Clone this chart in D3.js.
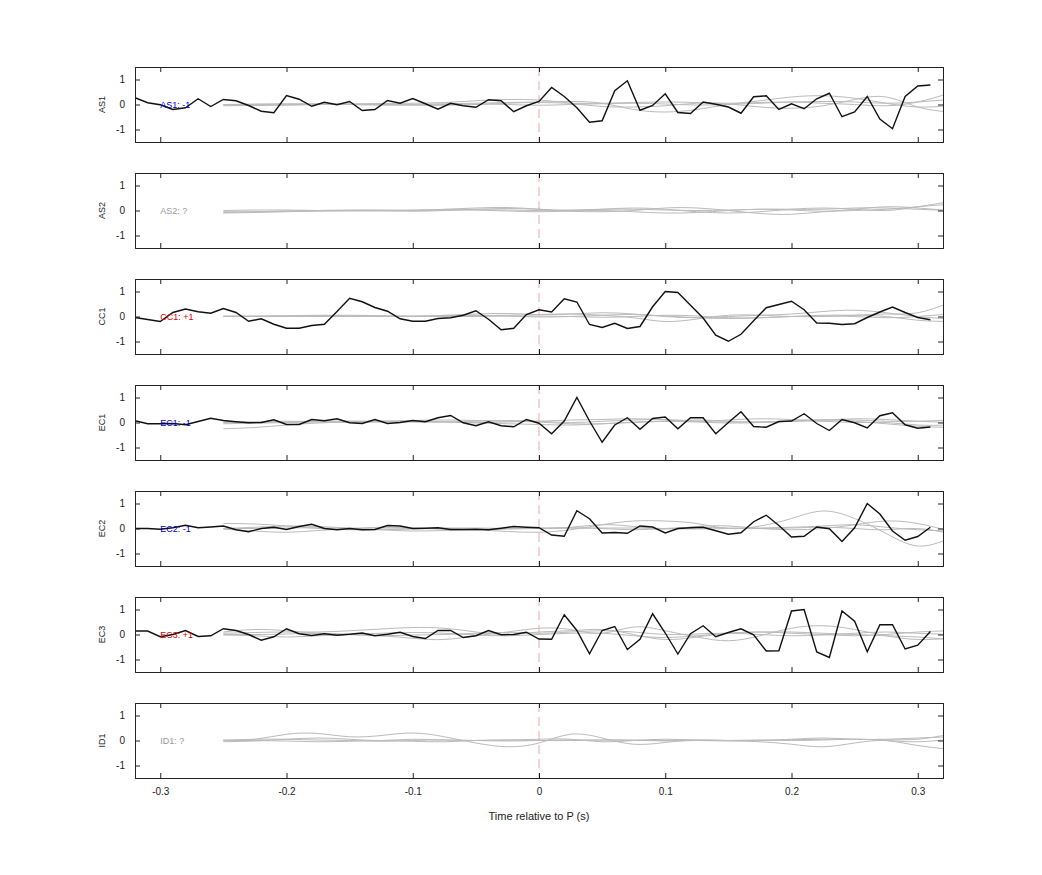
<!DOCTYPE html>
<html>
<head>
<meta charset="utf-8">
<script src="https://cdn.jsdelivr.net/npm/d3@7"></script>
<style>
  body { margin: 0; background: #fff; }
  svg text { font-family: "Liberation Sans", Arial, sans-serif; }
</style>
</head>
<body>
<div id="chart"></div>
<script>
// stations, polarity labels
const stations = ['AS1', 'AS2', 'CC1', 'EC1', 'EC2', 'EC3', 'ID1']
const polarity = ['-1', '?', '+1', '-1', '-1', '+1', '?']

// black trace sample times (s) and values per station
const sampleTimes = d3.range(-0.32, 0.315, 0.01)
const traceAS1 = [0.27, 0.07, -0.01, -0.2, -0.13, 0.23, -0.08, 0.2, 0.15, -0.04, -0.27, -0.33, 0.36, 0.21, -0.07, 0.09, -0.01, 0.12, -0.24, -0.2, 0.16, 0.05, 0.24, 0.03, -0.19, 0.05, -0.05, -0.11, 0.19, 0.15, -0.29, -0.05, 0.12,
  0.68, 0.32, -0.13, -0.71, -0.65, 0.55, 0.95, -0.23, -0.04, 0.43, -0.32, -0.36, 0.1, 0.01, -0.1, -0.35, 0.31, 0.35, -0.2, 0.03, -0.17, 0.23, 0.45, -0.49, -0.3, 0.32, -0.58, -0.97, 0.32, 0.74, 0.78]
const traceCC1 = [-0.04, -0.12, -0.2, 0.16, 0.3, 0.19, 0.13, 0.32, 0.16, -0.19, -0.09, -0.31, -0.47, -0.47, -0.36, -0.31, 0.2, 0.73, 0.59, 0.36, 0.21, -0.09, -0.19, -0.19, -0.08, -0.05, 0.05, 0.23, -0.11, -0.53, -0.47, 0.08, 0.27,
  0.18, 0.71, 0.58, -0.32, -0.44, -0.27, -0.48, -0.4, 0.39, 1.0, 0.96, 0.45, -0.06, -0.75, -0.99, -0.71, -0.17, 0.35, 0.48, 0.61, 0.27, -0.26, -0.27, -0.32, -0.29, -0.04, 0.18, 0.38, 0.16, -0.04, -0.13]
const traceEC1 = [0.07, -0.05, -0.05, -0.04, -0.09, 0.04, 0.17, 0.08, 0.03, -0.01, 0, 0.11, -0.08, -0.08, 0.12, 0.07, 0.15, -0.01, -0.04, 0.12, -0.04, 0, 0.08, 0.03, 0.19, 0.28, -0.01, -0.13, 0.03, -0.13, -0.17, 0.12, -0.03,
  -0.45, 0.06, 1.0, 0.06, -0.79, -0.1, 0.19, -0.27, 0.16, 0.22, -0.25, 0.19, 0.19, -0.45, 0, 0.43, -0.16, -0.19, 0.04, 0.06, 0.35, -0.04, -0.32, 0.12, -0.01, -0.22, 0.27, 0.39, -0.09, -0.23, -0.18]
const traceEC2 = [0, 0, -0.03, 0.03, 0.13, 0.03, 0.06, 0.1, -0.05, -0.13, 0, 0.05, -0.04, 0.08, 0.17, 0, -0.05, 0, -0.05, -0.04, 0.12, 0.1, 0, 0.01, 0.03, -0.04, -0.04, -0.03, -0.05, 0.01, 0.08, 0.05, 0.03,
  -0.26, -0.31, 0.71, 0.39, -0.18, -0.16, -0.19, 0.1, 0.06, -0.18, 0, 0.03, 0.05, -0.09, -0.23, -0.17, 0.27, 0.53, 0.12, -0.34, -0.31, 0.06, -0.01, -0.52, 0.03, 1.0, 0.58, -0.1, -0.47, -0.32, 0.05]
const traceEC3 = [0.14, 0.14, -0.09, 0, 0.16, -0.08, -0.05, 0.23, 0.16, 0, -0.23, -0.09, 0.23, 0.03, -0.04, 0.03, -0.03, 0.01, 0.06, -0.05, 0.01, 0.09, -0.08, -0.16, 0.16, 0.16, -0.12, -0.05, 0.16, -0.01, 0, 0.09, -0.18,
  -0.19, 0.79, 0.16, -0.77, 0.16, 0.32, -0.6, -0.19, 0.83, 0.06, -0.78, 0.03, 0.35, -0.09, 0.08, 0.23, -0.01, -0.66, -0.65, 0.94, 1.0, -0.7, -0.92, 0.94, 0.53, -0.69, 0.39, 0.39, -0.58, -0.43, 0.12]
const blackTraces = [traceAS1, null, traceCC1, traceEC1, traceEC2, traceEC3, null]

// grey synthetic traces, knots every 0.025 s from -0.25 to 0.325
const greyTimes = d3.range(-0.25, 0.33, 0.025)
const greyAS1 = [
  [0, 0.02, 0.03, 0.02, 0, -0.02, 0, 0.03, 0.05, 0.08, 0.1, 0.12, 0.05, -0.2, -0.3, -0.2, 0, 0.15, 0.3, 0.35, 0.25, 0.05, -0.1, -0.05],
  [-0.05, -0.04, -0.02, 0, 0.02, 0.04, 0.05, 0.08, 0.15, 0.2, 0.18, 0.05, -0.08, -0.1, -0.05, 0.05, 0.02, -0.1, -0.15, -0.05, 0.2, 0.3, -0.1, -0.3],
  [0, 0, 0.01, 0.02, 0, -0.01, -0.02, -0.03, 0, 0.05, 0.08, 0.05, 0.05, 0.08, 0.1, 0.08, 0.05, 0.08, 0.1, 0.05, 0, -0.05, 0.1, 0.45],
  [-0.02, -0.03, -0.02, 0, 0.02, 0, -0.02, 0, 0.02, 0, -0.03, 0, 0.03, 0.05, 0.02, -0.02, 0, 0.05, 0.1, 0.12, 0.1, 0.05, 0.1, 0.2]
]
const greyAS2 = [
  [-0.05, -0.05, -0.02, 0, 0.02, 0, -0.03, 0, 0.05, 0.08, 0.05, 0, 0.05, 0.1, 0.05, -0.05, -0.1, -0.05, 0.05, 0.1, 0.05, 0, 0.15, 0.35],
  [-0.08, -0.05, -0.03, -0.02, 0, 0.02, 0, 0.05, 0.1, 0.12, 0.05, -0.03, -0.05, 0, 0.1, 0.1, 0, -0.12, -0.15, -0.05, 0.05, 0.15, 0.1, 0],
  [0, 0.02, 0.02, 0, -0.02, -0.02, 0, 0.02, 0.03, 0.02, 0, 0.02, 0.05, 0.05, 0.02, 0, 0.02, 0.05, 0.05, 0.05, 0.1, 0.1, 0.05, 0],
  [-0.1, -0.08, -0.05, -0.02, 0, 0, 0.02, 0.03, 0.02, -0.02, -0.05, -0.02, 0, -0.05, -0.1, -0.08, 0, 0.05, 0.02, -0.03, 0, 0.05, 0.15, 0.25]
]
const greyCC1 = [
  [0, 0, 0.02, 0.03, 0.02, 0, 0, 0.02, 0.03, 0.05, 0.08, 0.1, 0.05, -0.05, -0.2, -0.1, 0.05, 0.05, 0, 0, 0.05, 0.1, 0.15, 0.55],
  [0, 0.01, 0.03, 0.05, 0.05, 0.03, 0, 0.05, 0.1, 0.12, 0.08, 0.1, 0.15, 0.1, 0, -0.05, 0, 0.05, 0.1, 0.2, 0.25, 0.15, 0, -0.1],
  [0, 0, 0, 0.01, 0.02, 0.02, 0.01, 0, 0, 0.02, 0.02, 0, -0.03, 0, 0.05, 0.02, -0.05, -0.05, 0, 0.05, 0.05, 0, -0.15, -0.2],
  [0.02, 0.02, 0.02, 0, 0, 0.01, 0.02, 0.03, 0.05, 0.02, -0.02, 0, 0.05, 0.08, 0.02, -0.05, -0.08, -0.05, 0, 0.02, 0, -0.05, 0, 0.1]
]
const greyEC1 = [
  [-0.25, -0.2, -0.1, -0.02, 0.02, 0.05, 0.05, 0.03, 0, 0.02, 0.05, 0.1, 0.12, 0.15, 0.1, 0.05, 0.1, 0.15, 0.12, 0.1, 0.15, 0.12, 0.05, 0.0],
  [-0.05, -0.03, 0, 0.02, 0.03, 0.05, 0.08, 0.1, 0.08, 0.05, 0.02, -0.05, -0.05, 0, 0.05, 0.1, 0.05, 0, 0.05, 0.1, 0.05, -0.05, -0.15, -0.2],
  [0.02, 0.03, 0.05, 0.03, 0, 0.02, 0.03, 0.02, -0.02, -0.05, -0.08, -0.1, -0.05, 0.02, 0.05, 0.02, -0.02, 0, 0.05, 0.05, 0, 0, -0.1, -0.1],
  [0, 0, 0.02, 0.05, 0.06, 0.05, 0.02, 0.02, 0.05, 0.08, 0.05, 0, 0.05, 0.1, 0.12, 0.05, 0.02, 0.03, 0.05, 0.1, 0.1, 0.05, 0.05, 0.1]
]
const greyEC2 = [
  [0.2, 0.18, 0.1, 0, -0.05, -0.05, -0.02, 0, -0.05, -0.12, -0.15, -0.05, 0.15, 0.3, 0.3, 0.2, 0, 0.1, 0.4, 0.7, 0.4, -0.2, -0.7, -0.4],
  [0, 0.05, 0.1, 0.08, 0.02, -0.05, -0.1, -0.08, -0.05, -0.02, 0, 0.05, 0.15, 0.08, -0.02, 0.08, 0.1, 0, -0.05, 0, 0.15, 0.3, 0.2, -0.1],
  [-0.03, -0.1, -0.15, -0.08, 0, 0.05, 0.02, -0.03, -0.05, 0, 0.02, 0.03, 0, -0.05, 0, 0.05, 0.02, 0, 0.02, 0.05, 0, -0.05, 0, -0.2],
  [0, 0, 0.02, 0.03, 0, -0.02, 0, 0.02, 0.02, 0, 0, 0.01, 0.02, 0.02, 0, -0.02, 0, 0.02, 0.05, 0.1, 0.15, 0.05, -0.05, -0.1]
]
const greyEC3 = [
  [0.1, 0.2, 0.15, 0.05, 0, -0.05, -0.15, -0.2, -0.05, 0.1, 0.25, 0.2, 0.05, 0.3, 0.15, -0.1, -0.25, -0.05, 0.25, 0.35, 0.2, -0.05, -0.2, -0.15],
  [0.05, 0.08, 0.1, 0.1, 0.15, 0.22, 0.28, 0.25, 0.1, 0, 0.1, 0.15, 0.2, 0, -0.2, -0.1, 0.05, 0.1, 0.1, 0.05, 0, -0.05, -0.1, -0.2],
  [0, 0, 0.02, 0.05, 0, -0.05, -0.02, 0, 0.05, 0.08, 0.05, 0.1, 0.15, 0.1, 0, 0.02, 0.05, 0, -0.05, -0.02, 0.05, 0.1, 0.05, 0],
  [-0.02, -0.05, -0.1, -0.05, 0, 0.05, 0.08, 0.05, -0.02, -0.05, 0, 0.05, 0.05, -0.05, -0.12, -0.05, 0.05, 0.1, 0.05, 0, -0.05, 0, 0.1, 0.15]
]
const greyID1 = [
  [0, 0.05, 0.25, 0.28, 0.15, 0.2, 0.3, 0.15, -0.1, -0.25, -0.1, 0.25, 0.1, -0.15, -0.08, 0.02, 0, -0.05, -0.15, -0.25, -0.1, 0.02, 0.05, 0.25],
  [-0.05, -0.02, 0.05, 0.1, 0.05, 0, 0.05, 0.02, 0, 0.02, 0.05, 0.05, -0.05, 0, 0.05, 0.02, 0, 0, 0.03, 0.05, 0.05, 0, -0.2, -0.35],
  [0.02, 0.05, 0.05, 0.02, 0, -0.03, 0, 0.02, 0, -0.02, 0, 0.02, 0.02, 0, 0, 0, -0.02, 0, 0.05, 0.1, 0.05, 0.05, 0.1, 0.15],
  [0, 0, -0.02, -0.05, -0.03, 0, -0.03, -0.05, 0, 0.02, 0, 0, 0.02, 0.02, -0.02, 0, 0, 0.02, 0, 0.02, 0.05, 0, -0.05, 0.05]
]
const greyTraces = [greyAS1, greyAS2, greyCC1, greyEC1, greyEC2, greyEC3, greyID1]

const xTicks = [-0.3, -0.2, -0.1, 0, 0.1, 0.2, 0.3]
const yTicks = [-1, 0, 1]

const W = 1042, H = 875
const left = 135, right = 943, top0 = 67, panelH = 75, step = 106
const polColor = { '-1': '#0000cc', '+1': '#dd0000', '?': '#999999' }
const hyphen = f => d => f(d).replace('\u2212', '-')

const svg = d3.select('#chart').append('svg').attr('width', W).attr('height', H)

const x = d3.scaleLinear().domain([-0.32, 0.32]).range([left, right])

stations.forEach((st, i) => {
  const ty = top0 + i * step
  const y = d3.scaleLinear().domain([-1.5, 1.5]).range([ty + panelH, ty])
  const g = svg.append('g')
  const clipId = 'clip' + i
  g.append('clipPath').attr('id', clipId).append('rect')
    .attr('x', left).attr('y', ty).attr('width', right - left).attr('height', panelH)

  const plot = g.append('g').attr('clip-path', `url(#${clipId})`)

  // P arrival marker
  plot.append('line')
    .attr('x1', x(0)).attr('x2', x(0)).attr('y1', ty).attr('y2', ty + panelH)
    .attr('stroke', '#e89090').attr('stroke-opacity', 0.8)
    .attr('stroke-dasharray', '9,5').attr('stroke-width', 1)

  const greyLine = d3.line().x((d, k) => x(greyTimes[k])).y(d => y(d)).curve(d3.curveNatural)
  greyTraces[i].forEach(tr => {
    plot.append('path').attr('d', greyLine(tr))
      .attr('fill', 'none').attr('stroke', '#bbbbbb').attr('stroke-width', 1)
  })

  if (blackTraces[i]) {
    const blackLine = d3.line().x((d, k) => x(sampleTimes[k])).y(d => y(d))
    plot.append('path').attr('d', blackLine(blackTraces[i]))
      .attr('fill', 'none').attr('stroke', '#111').attr('stroke-width', 1.4)
  }

  // station/polarity label
  g.append('text').attr('x', x(-0.3)).attr('y', y(0)).attr('dy', '0.35em')
    .attr('font-size', 9).attr('fill', polColor[polarity[i]])
    .text(`${st}: ${polarity[i]}`)

  // axes, ticks inward
  const axL = d3.axisLeft(y).tickValues(yTicks).tickSize(-5).tickPadding(10).tickFormat(hyphen(d3.format('d')))
  const axR = d3.axisRight(y).tickValues(yTicks).tickSize(-5).tickFormat('')
  const axT = d3.axisTop(x).tickValues(xTicks).tickSize(-5).tickFormat('')
  const axB = d3.axisBottom(x).tickValues(xTicks).tickSize(-5)
    .tickFormat(i === stations.length - 1 ? hyphen(d3.format('')) : '').tickPadding(10)

  g.append('g').attr('transform', `translate(${left},0)`).call(axL)
  g.append('g').attr('transform', `translate(${right},0)`).call(axR)
  g.append('g').attr('transform', `translate(0,${ty})`).call(axT)
  g.append('g').attr('transform', `translate(0,${ty + panelH})`).call(axB)

  g.selectAll('.domain').attr('stroke', '#222')
  g.selectAll('.tick line').attr('stroke', '#222')
  g.selectAll('.tick text').attr('font-size', 10).attr('fill', '#222')
    .style('font-family', '"Liberation Sans", Arial, sans-serif')

  g.append('text')
    .attr('transform', `translate(${left - 30},${y(0)}) rotate(-90)`)
    .attr('text-anchor', 'middle').attr('font-size', 9).attr('fill', '#222').text(st)
})

svg.append('text').attr('x', x(0)).attr('y', 820).attr('text-anchor', 'middle')
  .attr('font-size', 11).attr('fill', '#222').text('Time relative to P (s)')
</script>
</body>
</html>
